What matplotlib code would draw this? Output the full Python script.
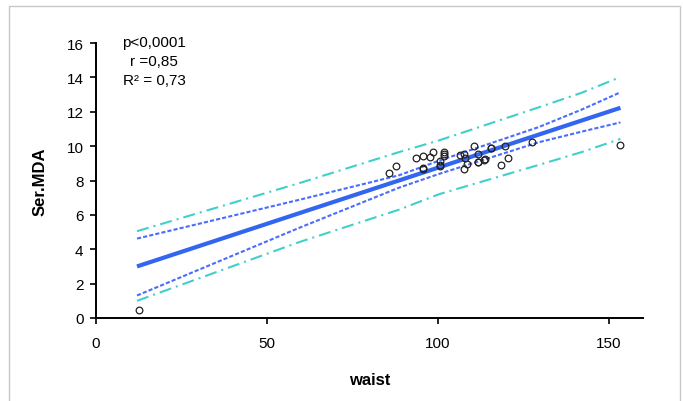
import numpy as np
import matplotlib
matplotlib.use("Agg")
import matplotlib.pyplot as plt
from matplotlib.patches import Rectangle

plt.rcParams['font.family'] = ['Liberation Sans', 'DejaVu Sans']

# scatter: waist vs Ser.MDA
waist = [12.5, 85.7, 87.7, 93.7, 95.6, 95.6, 95.6, 97.6, 98.6, 100.6, 100.7, 100.7,
         101.8, 101.8, 101.8, 106.6, 107.5, 107.8, 107.5, 108.5, 110.6, 111.6, 111.6,
         111.6, 113.6, 113.8, 115.5, 115.6, 118.5, 119.5, 120.4, 127.4, 153.4]
mda = [0.45, 8.42, 8.86, 9.29, 9.40, 8.67, 8.70, 9.35, 9.66, 9.15, 8.84, 8.88,
       9.68, 9.54, 9.40, 9.48, 9.54, 9.29, 8.65, 8.96, 9.99, 9.54, 9.07,
       9.10, 9.21, 9.23, 9.87, 9.90, 8.90, 9.99, 9.29, 10.26, 10.06]

# regression line ends
fit_x = [12, 153.4]
fit_y = [3.0, 12.23]

# band readings
band_x = [12, 59.5, 88.6, 100.3, 129.4, 142, 153.4]
ci_upper = [4.62, 6.88, 8.30, 9.15, 11.10, 12.12, 13.13]
ci_lower = [1.31, 5.25, 7.58, 8.38, 10.22, 10.84, 11.38]
pi_upper = [5.05, 7.85, 9.65, 10.33, 12.25, 13.10, 14.02]
pi_lower = [1.00, 4.42, 6.30, 7.20, 8.90, 9.65, 10.42]

x_ticks = [0, 50, 100, 150]
y_ticks = [0, 2, 4, 6, 8, 10, 12, 14, 16]
stats_text = "p<0,0001\nr =0,85\nR\u00b2 = 0,73"

fig = plt.figure(figsize=(6.83, 4.02), dpi=100)
fig.patches.append(Rectangle((9/683, -0.01), (680-9)/683, (402-7)/402 + 0.01,
                             transform=fig.transFigure, fill=False,
                             edgecolor='#c8c8c8', linewidth=1.0))

ax = fig.add_axes([96/683, 1-319/402, (643-96)/683, (319-44)/402])

pi_col = '#40d0cc'
ci_col = '#4a6cff'
fit_col = '#3366f0'

ax.plot(band_x, pi_upper, color=pi_col, lw=1.5, dashes=(5.8, 2.4, 1, 2.4))
ax.plot(band_x, pi_lower, color=pi_col, lw=1.5, dashes=(5.8, 2.4, 1, 2.4))
ax.plot(band_x, ci_upper, color=ci_col, lw=1.5, dashes=(2, 1))
ax.plot(band_x, ci_lower, color=ci_col, lw=1.5, dashes=(2, 1))
ax.plot(fit_x, fit_y, color=fit_col, lw=3.0, solid_capstyle='butt')
ax.plot(waist, mda, 'o', mfc='none', mec='#222222', ms=4.8, mew=0.9)

ax.set_xlim(0, 160)
ax.set_ylim(0, 16)
ax.set_xticks(x_ticks)
ax.set_yticks(y_ticks)
for s in ['top', 'right']:
    ax.spines[s].set_visible(False)
for s in ['left', 'bottom']:
    ax.spines[s].set_linewidth(1.4)
ax.tick_params(direction='out', length=4, width=1.2, labelsize=11, colors='black')
ax.tick_params(axis='x', pad=9)
ax.tick_params(axis='y', pad=5)

ax.set_xlabel('waist', fontsize=12, fontweight='bold', labelpad=16)
ax.set_ylabel('Ser.MDA', fontsize=12, fontweight='bold', labelpad=14)

ax.text(17, 16.45, stats_text, ha='center', va='top', fontsize=11,
        linespacing=1.45, clip_on=False)

fig.savefig('out.png', dpi=100)
